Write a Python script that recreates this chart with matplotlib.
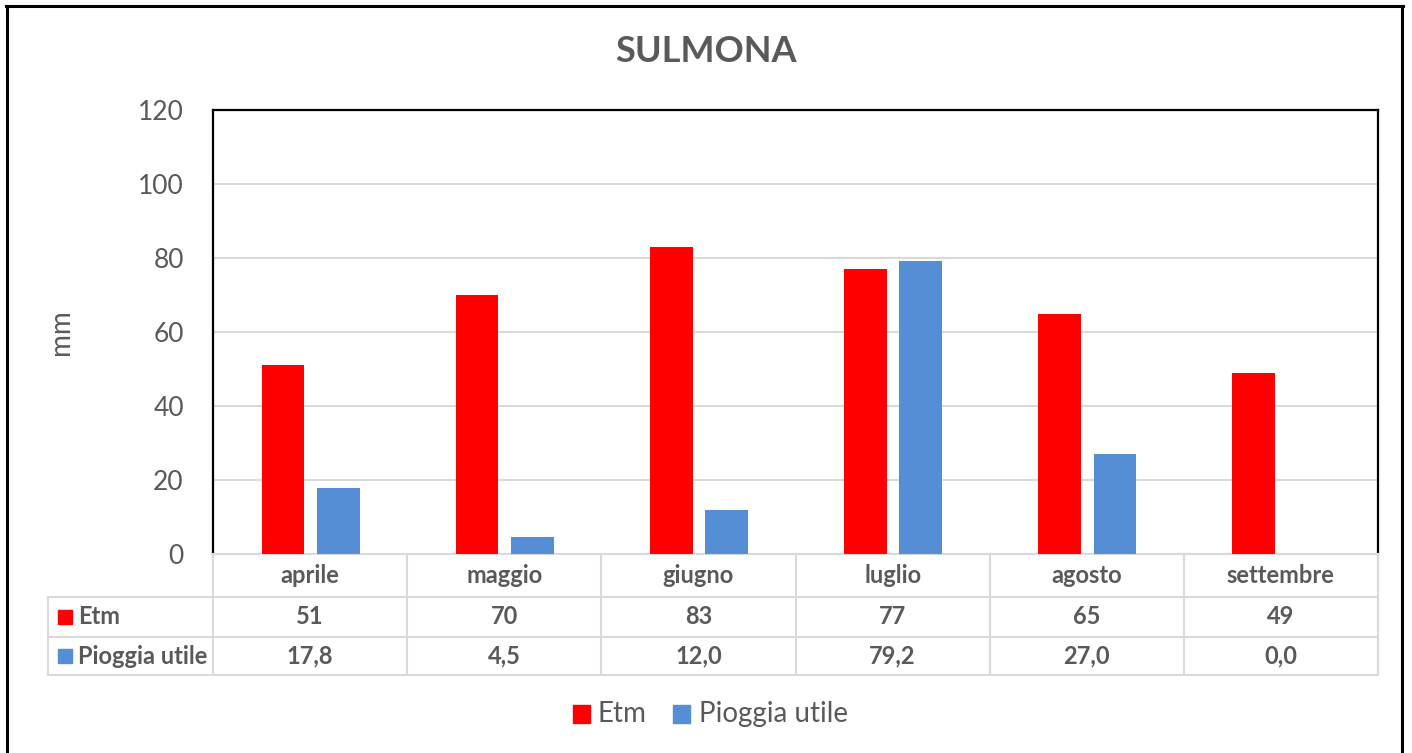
import matplotlib
matplotlib.use("Agg")
import matplotlib.pyplot as plt
from matplotlib.lines import Line2D
from matplotlib.patches import Rectangle
from matplotlib.transforms import blended_transform_factory

# monthly water balance for Sulmona (mm)
months = ["aprile", "maggio", "giugno", "luglio", "agosto", "settembre"]
etm = [51, 70, 83, 77, 65, 49]
pioggia = [17.8, 4.5, 12.0, 79.2, 27.0, 0.0]
series_names = ["Etm", "Pioggia utile"]
y_ticks = [0, 20, 40, 60, 80, 100, 120]

RED = "#FF0000"
BLUE = "#558ED5"
GRAY = "#595959"
GRID = "#D9D9D9"

plt.rcParams["font.family"] = ["Lato", "DejaVu Sans"]

W, H = 1412, 753
fig = plt.figure(figsize=(W / 100, H / 100), dpi=100)

def fy(py):
    return 1 - py / H

def fx(px):
    return px / W

# plot area in pixel positions
L, R, T, B = 213, 1378, 110, 554
ax = fig.add_axes([fx(L), fy(B), fx(R) - fx(L), fy(T) - fy(B)])

x = list(range(len(months)))
bw = 0.22
ax.bar([i - 0.14 for i in x], etm, width=bw, color=RED, zorder=3)
ax.bar([i + 0.145 for i in x], pioggia, width=bw, color=BLUE, zorder=3)

ax.set_xlim(-0.5, len(months) - 0.5)
ax.set_ylim(0, 120)
ax.set_yticks(y_ticks)
ax.set_yticklabels([str(v) for v in y_ticks], fontsize=19, color=GRAY)
ax.set_xticks([])
ax.tick_params(axis="y", length=0, pad=21)
ax.yaxis.grid(True, color=GRID, linewidth=1.5, zorder=0)
for side in ["left", "top", "right"]:
    ax.spines[side].set_color("black")
    ax.spines[side].set_linewidth(1.6)
ax.spines["bottom"].set_color(GRID)
ax.spines["bottom"].set_linewidth(1.5)
ax.set_ylabel("mm", fontsize=20, color=GRAY, labelpad=46)

fig.text(0.5, fy(52), "SULMONA", ha="center", va="center",
         fontsize=26, fontweight="bold", color=GRAY)

# data table under the axis
tr = blended_transform_factory(ax.transData, fig.transFigure)
rows = [B, 597, 637, 675]
x_left = -0.5 - (L - 48) / ((R - L) / len(months))
lw = 1.5
tfs = 17

# horizontal rules
for py in rows[1:]:
    fig.add_artist(Line2D([x_left, len(months) - 0.5], [fy(py), fy(py)],
                          transform=tr, color=GRID, linewidth=lw))
# vertical rules
for i in range(len(months) + 1):
    xv = i - 0.5
    fig.add_artist(Line2D([xv, xv], [fy(rows[0]), fy(rows[-1])],
                          transform=tr, color=GRID, linewidth=lw))
fig.add_artist(Line2D([x_left, x_left], [fy(rows[1]), fy(rows[-1])],
                      transform=tr, color=GRID, linewidth=lw))

def mid(a, b):
    return fy((a + b) / 2)

for i, m in enumerate(months):
    fig.text(i, mid(rows[0], rows[1]), m, transform=tr, ha="center",
             va="center", fontsize=tfs, fontweight="bold", color=GRAY)
    fig.text(i, mid(rows[1], rows[2]), str(etm[i]), transform=tr,
             ha="center", va="center", fontsize=tfs, fontweight="bold", color=GRAY)
    fig.text(i, mid(rows[2], rows[3]), f"{pioggia[i]:.1f}".replace(".", ","),
             transform=tr, ha="center", va="center", fontsize=tfs,
             fontweight="bold", color=GRAY)

# series keys inside the table
for k, (name, col) in enumerate(zip(series_names, [RED, BLUE])):
    r0, r1 = rows[k + 1], rows[k + 2]
    cy = (r0 + r1) / 2
    fig.add_artist(Rectangle((fx(58), fy(cy + 7)), fx(14), fy(cy - 7) - fy(cy + 7),
                             transform=fig.transFigure, color=col))
    fig.text(fx(78), fy(cy), name, ha="left", va="center",
             fontsize=tfs, fontweight="bold", color=GRAY)

# legend below the table
ly = 714
for name, col, px_box, px_txt in [("Etm", RED, 573, 598),
                                    ("Pioggia utile", BLUE, 673, 699)]:
    fig.add_artist(Rectangle((fx(px_box), fy(ly + 9)), fx(17), fy(ly - 9) - fy(ly + 9),
                             transform=fig.transFigure, color=col))
    fig.text(fx(px_txt), fy(ly), name, ha="left", va="center",
             fontsize=20, color=GRAY)

# outer frame (left, top, right)
frame_kw = dict(transform=fig.transFigure, color="black", linewidth=2.2)
fig.add_artist(Line2D([fx(7), fx(7)], [0, fy(6)], **frame_kw))
fig.add_artist(Line2D([fx(6), fx(1403)], [fy(6), fy(6)], **frame_kw))
fig.add_artist(Line2D([fx(1402), fx(1402)], [0, fy(6)], **frame_kw))

fig.savefig("out.png", dpi=100)
